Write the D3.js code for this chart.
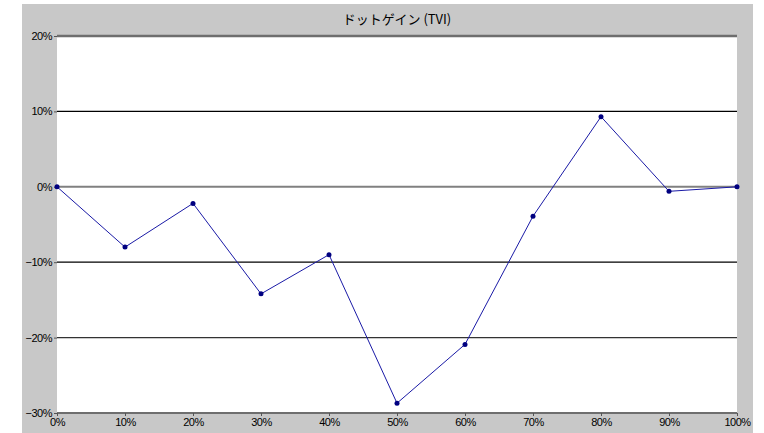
<!DOCTYPE html>
<html><head><meta charset="utf-8">
<script src="https://cdn.jsdelivr.net/npm/d3@7"></script>
<style>
html,body{margin:0;padding:0;background:#fff;}
svg text{font-family:"Liberation Sans",Arial,sans-serif;}
</style>
</head><body>
<svg id="chart" width="764" height="433"></svg>
<script>
const title = "ドットゲイン (TVI)";
const xValues = [0,10,20,30,40,50,60,70,80,90,100];
const yValues = [0,-8.0,-2.2,-14.2,-9.0,-28.7,-20.9,-3.9,9.3,-0.6,0];
const yTicks = [20,10,0,-10,-20,-30];
const xTicks = [0,10,20,30,40,50,60,70,80,90,100];

const svg = d3.select("#chart");
const W = 764, H = 433;
const m = {left:57, right:27, top:36, bottom:20};
const x = d3.scaleLinear().domain([0,100]).range([m.left, W-m.right]);
const y = d3.scaleLinear().domain([-30,20]).range([H-m.bottom, m.top]);

// gray background
svg.append("rect").attr("x",22).attr("y",4).attr("width",731).attr("height",H-4).attr("fill","#c8c8c8");
// plot area
svg.append("rect").attr("x",x(0)).attr("y",y(20)).attr("width",x(100)-x(0)).attr("height",y(-30)-y(20)).attr("fill","#fff");

// gridlines
const gridStyle = {20:["#6e6e6e",2.5],10:["#000",1.2],0:["#808080",2],"-10":["#000",1.2],"-20":["#333",1.2],"-30":["#6e6e6e",2]};
yTicks.forEach(t=>{
  const s = gridStyle[t];
  svg.append("line").attr("x1",x(0)).attr("x2",x(100)).attr("y1",y(t)).attr("y2",y(t))
    .attr("stroke",s[0]).attr("stroke-width",s[1]);
});

// y axis
const yAxis = d3.axisLeft(y).tickValues(yTicks).tickSize(3).tickPadding(2).tickFormat(d=>(d<0?"\u2212"+(-d):d)+"%");
const gy = svg.append("g").attr("transform",`translate(${x(0)},0)`).call(yAxis);
gy.select(".domain").remove();
gy.selectAll(".tick line").attr("stroke","#555");
gy.selectAll("text").attr("font-size","11px").attr("fill","#000").attr("letter-spacing","-0.5px");

// x axis
const xAxis = d3.axisBottom(x).tickValues(xTicks).tickSize(3).tickPadding(2).tickFormat(d=>d+"%");
const gx = svg.append("g").attr("transform",`translate(0,${y(-30)})`).call(xAxis);
gx.select(".domain").remove();
gx.selectAll(".tick line").attr("stroke","#555");
gx.selectAll("text").attr("font-size","11px").attr("fill","#000").attr("letter-spacing","-0.5px");

// line
const line = d3.line().x((d,i)=>x(xValues[i])).y(d=>y(d));
svg.append("path").datum(yValues).attr("d",line).attr("fill","none").attr("stroke","#1a1aa6").attr("stroke-width",1);
svg.selectAll("circle.pt").data(yValues).enter().append("circle").attr("class","pt")
  .attr("cx",(d,i)=>x(xValues[i])).attr("cy",d=>y(d)).attr("r",2.5).attr("fill","#000080");

// title
svg.append("text").attr("x",(x(0)+x(100))/2).attr("y",24).attr("text-anchor","middle")
  .attr("font-size","13px").style("font-family","'Noto Sans CJK JP',sans-serif").attr("fill","#000").text(title);
</script>
</body></html>
